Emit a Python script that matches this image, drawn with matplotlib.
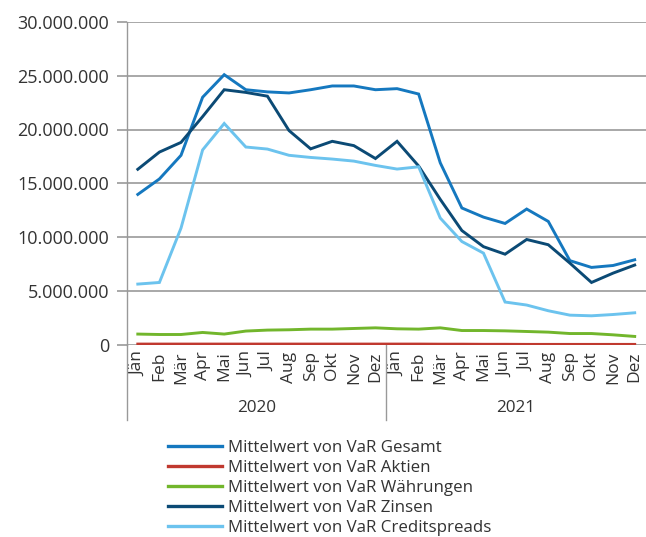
import matplotlib
matplotlib.use("Agg")
import matplotlib.pyplot as plt
from matplotlib.ticker import FuncFormatter
import matplotlib.transforms as mtransforms

months = ["Jän", "Feb", "Mär", "Apr", "Mai", "Jun", "Jul", "Aug", "Sep", "Okt", "Nov", "Dez"]
years = ["2020", "2021"]
categories = months * 2

gesamt = [13.96, 15.4, 17.6, 23.0, 25.1, 23.7, 23.5, 23.4, 23.7, 24.05, 24.05, 23.7,
          23.8, 23.3, 16.9, 12.7, 11.85, 11.26, 12.6, 11.45, 7.8, 7.17, 7.35, 7.88]
aktien = [0.04, 0.04, 0.04, 0.04, 0.04, 0.04, 0.04, 0.04, 0.04, 0.04, 0.04, 0.04,
          0.04, 0.04, 0.03, 0.03, 0.02, 0.02, 0.01, 0.01, 0.01, 0.01, 0.01, 0.01]
waehrungen = [0.97, 0.93, 0.93, 1.12, 0.97, 1.25, 1.34, 1.37, 1.43, 1.43, 1.49, 1.55,
              1.46, 1.43, 1.55, 1.30, 1.30, 1.27, 1.21, 1.15, 1.02, 1.02, 0.90, 0.75]
zinsen = [16.3, 17.9, 18.8, 21.2, 23.7, 23.45, 23.1, 19.9, 18.2, 18.9, 18.5, 17.3,
          18.9, 16.6, 13.5, 10.6, 9.1, 8.4, 9.77, 9.28, 7.57, 5.77, 6.64, 7.39]
creditspreads = [5.62, 5.77, 10.83, 18.1, 20.56, 18.37, 18.18, 17.6, 17.4, 17.25, 17.06, 16.66,
                 16.32, 16.53, 11.76, 9.58, 8.5, 3.95, 3.67, 3.14, 2.73, 2.67, 2.79, 2.95]

series = [
    ("Mittelwert von VaR Gesamt", gesamt, "#1578bf"),
    ("Mittelwert von VaR Aktien", aktien, "#c0392f"),
    ("Mittelwert von VaR Währungen", waehrungen, "#72b62c"),
    ("Mittelwert von VaR Zinsen", zinsen, "#0b4a75"),
    ("Mittelwert von VaR Creditspreads", creditspreads, "#6cc3ee"),
]

plt.rcParams['font.family'] = ['Open Sans', 'DejaVu Sans']
text_color = "#333333"
grid_color = "#999999"

fig = plt.figure(figsize=(6.46, 5.37), dpi=100)
ax = fig.add_axes([127/646, 1 - 344.5/537, (645.5-127)/646, (344.5-22)/537])

x = list(range(len(categories)))
for label, vals, color in series:
    ax.plot(x, [v * 1e6 for v in vals], color=color, lw=2.1, label=label,
            solid_joinstyle='miter', zorder=3)

ax.set_ylim(0, 30e6)
ax.set_xlim(-0.5, len(categories) - 0.5)
ax.set_yticks([0, 5e6, 10e6, 15e6, 20e6, 25e6, 30e6])
ax.yaxis.set_major_formatter(FuncFormatter(lambda v, p: f"{int(round(v)):,}".replace(",", ".")))
ax.grid(axis='y', color=grid_color, lw=1.2, zorder=0)
ax.set_axisbelow(True)
for s in ["top", "right", "bottom"]:
    ax.spines[s].set_visible(False)
ax.spines["left"].set_color(grid_color)
ax.spines["left"].set_linewidth(1.0)
ax.tick_params(axis='y', length=7, color=grid_color, width=1.2, labelsize=13,
               labelcolor=text_color, pad=6)
ax.set_xticks(x)
ax.set_xticklabels(categories, rotation=90, fontsize=12.5, color=text_color)
ax.tick_params(axis='x', length=0, pad=5)

# group separators and year labels
trans = mtransforms.blended_transform_factory(ax.transData, ax.transAxes)
sep_bottom = -(420 - 344.5) / (344.5 - 22)
for xs in [-0.5, 11.5]:
    ax.plot([xs, xs], [0, sep_bottom], color=grid_color, lw=1.0, transform=trans, clip_on=False)
year_y = -(408 - 344.5) / (344.5 - 22)
for i, yr in enumerate(years):
    ax.text(i * 12 + 5.5, year_y, yr, transform=trans, ha='center', va='center',
            fontsize=12.3, color=text_color)

leg = fig.legend(loc='upper left', bbox_to_anchor=(168/646, 1 - 440/537), frameon=False,
                 fontsize=12.2, handlelength=3.2, handletextpad=0.35, labelspacing=0.24,
                 borderpad=0, borderaxespad=0)
for t in leg.get_texts():
    t.set_color(text_color)
for l in leg.get_lines():
    l.set_linewidth(2.4)

fig.savefig("out.png", dpi=100)
